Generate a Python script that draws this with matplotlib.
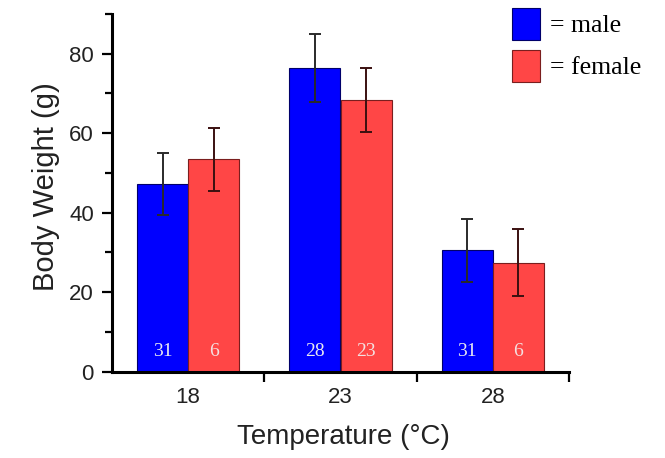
import matplotlib
matplotlib.use("Agg")
import matplotlib.pyplot as plt
import numpy as np
from matplotlib.patches import Patch

categories = ["18", "23", "28"]
male_mean = [47.2, 76.4, 30.5]
male_err = [7.8, 8.5, 7.9]
female_mean = [53.4, 68.3, 27.4]
female_err = [8.0, 8.0, 8.4]
male_n = ["31", "28", "31"]
female_n = ["6", "23", "6"]

fig = plt.figure(figsize=(6.65, 4.58), dpi=100)
ax = fig.add_axes([112/665, 1-371.5/458, (569-112)/665, (371.5-14)/458])

x = np.arange(len(categories))
w = 0.335
blue = "#0000ff"
red = "#ff4646"

ax.bar(x - w/2, male_mean, w, color=blue, edgecolor="#00006a", linewidth=0.8, zorder=2)
ax.bar(x + w/2, female_mean, w, color=red, edgecolor="#7a1e1e", linewidth=0.8, zorder=2)
ax.errorbar(x - w/2, male_mean, yerr=male_err, fmt="none", ecolor="#2a2a2a",
            elinewidth=1.4, capsize=4.3, capthick=1.4, zorder=3)
ax.errorbar(x + w/2, female_mean, yerr=female_err, fmt="none", ecolor="#3a1010",
            elinewidth=1.4, capsize=4.3, capthick=1.4, zorder=3)

for xi, n in zip(x - w/2, male_n):
    ax.text(xi, 5, n, color="#e8e8f0", ha="center", va="center",
            family="Liberation Serif", fontsize=14, zorder=4)
for xi, n in zip(x + w/2, female_n):
    ax.text(xi, 5, n, color="#f4e0e0", ha="center", va="center",
            family="Liberation Serif", fontsize=14, zorder=4)

ax.set_xlim(-0.5, 2.5)
ax.set_ylim(0, 90)
ax.spines["top"].set_visible(False)
ax.spines["right"].set_visible(False)
ax.spines["left"].set_linewidth(2.2)
ax.spines["bottom"].set_linewidth(2.2)

ax.set_yticks([0, 20, 40, 60, 80])
ax.set_yticks([10, 30, 50, 70, 90], minor=True)
ax.set_xticks(x)
ax.set_xticklabels(categories)
ax.set_xticks([0.5, 1.5, 2.5], minor=True)
ax.tick_params(axis="y", which="major", length=7, width=1.6, labelsize=16, pad=6)
ax.tick_params(axis="y", which="minor", length=5, width=1.6)
ax.tick_params(axis="x", which="major", length=0, labelsize=16, pad=11)
ax.tick_params(axis="x", which="minor", length=7, width=1.6)
for lab in ax.get_xticklabels() + ax.get_yticklabels():
    lab.set_family("Liberation Sans")
    lab.set_color("#222222")

ax.set_xlabel("Temperature (°C)", family="Liberation Sans", fontsize=20,
              color="#222222")
ax.xaxis.set_label_coords((343-112)/457, (371.5-424)/357.5)
ax.set_ylabel("Body Weight (g)", family="Liberation Sans", fontsize=21,
              color="#222222")
ax.yaxis.set_label_coords((60-112)/457, (371.5-187)/357.5)

handles = [Patch(facecolor=blue, edgecolor="#00006a", linewidth=0.8),
           Patch(facecolor=red, edgecolor="#7a1e1e", linewidth=0.8)]
fig.legend(handles, ["= male", "= female"], loc="upper left",
           bbox_to_anchor=(512/665, 1-8/458), bbox_transform=fig.transFigure,
           frameon=False, borderpad=0, borderaxespad=0,
           prop={"family": "Liberation Serif", "size": 18.5},
           handlelength=1.09, handleheight=1.54, handletextpad=0.4, labelspacing=0.38)

fig.savefig("out.png", dpi=100)
